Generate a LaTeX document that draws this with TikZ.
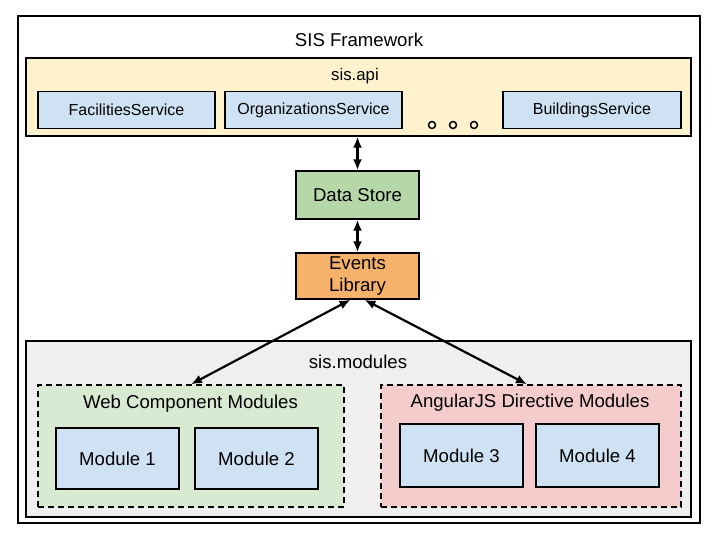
\documentclass[tikz,border=0pt]{standalone}
\usepackage{fontspec}
\setmainfont{Liberation Sans}
\usetikzlibrary{arrows.meta}

\definecolor{apiyellow}{HTML}{FFF2CC}
\definecolor{svcblue}{HTML}{CFE2F3}
\definecolor{storegreen}{HTML}{B6D7A8}
\definecolor{eventorange}{HTML}{F6B26B}
\definecolor{modgray}{HTML}{EFEFEF}
\definecolor{webgreen}{HTML}{D9EAD3}
\definecolor{ngred}{HTML}{F4CCCC}

\begin{document}
\begin{tikzpicture}[x=1pt, y=-1pt, line width=1.4pt,
  every node/.style={rectangle, inner sep=0pt, font=\fontsize{18.6}{22.5}\selectfont},
  box/.style={draw, minimum width=#1},
  svc/.style={box=177pt, fill=svcblue, minimum height=37pt, font=\fontsize{16}{19}\selectfont},
  mod/.style={box=123pt, fill=svcblue},
  group/.style={draw, dashed, dash pattern=on 6pt off 4pt},
  link/.style={line width=2.2pt, {Latex[length=11pt,width=9pt]}-{Latex[length=11pt,width=9pt]}}]
  \useasboundingbox (0,0) rectangle (720,540);

  \node[box=682pt, minimum height=507pt] (frame) at (359,269.5) {};
  \node (title) at (359,40) {SIS Framework};

  \node[box=665pt, minimum height=78pt, fill=apiyellow] (api) at (358.5,97) {};
  \node[font=\fontsize{16.8}{20}\selectfont] (apititle) at (355,76) {sis.api};
  \node[svc] (fac) at (126.5,110) {FacilitiesService};
  \node[svc] (org) at (313.5,110) {OrganizationsService};
  \node[svc, minimum width=178pt] (bld) at (592,110) {BuildingsService};
  \foreach \i/\x in {1/432,2/453,3/474}
    \node[circle, draw, line width=1.5pt, minimum size=7pt] (dot\i) at (\x,125) {};

  \node[box=123pt, minimum height=48pt, fill=storegreen] (store) at (357.5,195) {Data Store};
  \node[box=123pt, minimum height=46pt, fill=eventorange, align=center] (events) at (357.5,276) {Events\\Library};

  \node[box=665pt, minimum height=176pt, fill=modgray] (mods) at (358.5,429) {};
  \node (modtitle) at (358,362) {sis.modules};

  \node[group, minimum width=306pt, minimum height=122pt, fill=webgreen] (web) at (191,446) {};
  \node (webtitle) at (190.5,404) {Web Component Modules};
  \node[mod, minimum height=61pt] (m1) at (117.5,458.5) {Module 1};
  \node[mod, minimum height=61pt] (m2) at (256.5,458.5) {Module 2};

  \node[group, minimum width=300pt, minimum height=122pt, fill=ngred] (ng) at (531,446) {};
  \node (ngtitle) at (530,403) {AngularJS Directive Modules};
  \node[mod, minimum height=63pt] (m3) at (461.5,455.5) {Module 3};
  \node[mod, minimum height=63pt] (m4) at (597.5,455.5) {Module 4};

  \draw[link] (store.north |- api.south) -- (store.north);
  \draw[link] (store.south) -- (events.north);
  \draw[link] ([xshift=-7pt]events.south) -- (web.north);
  \draw[link] ([xshift=7pt]events.south) -- ([xshift=-4pt]ng.north);
\end{tikzpicture}
\end{document}
